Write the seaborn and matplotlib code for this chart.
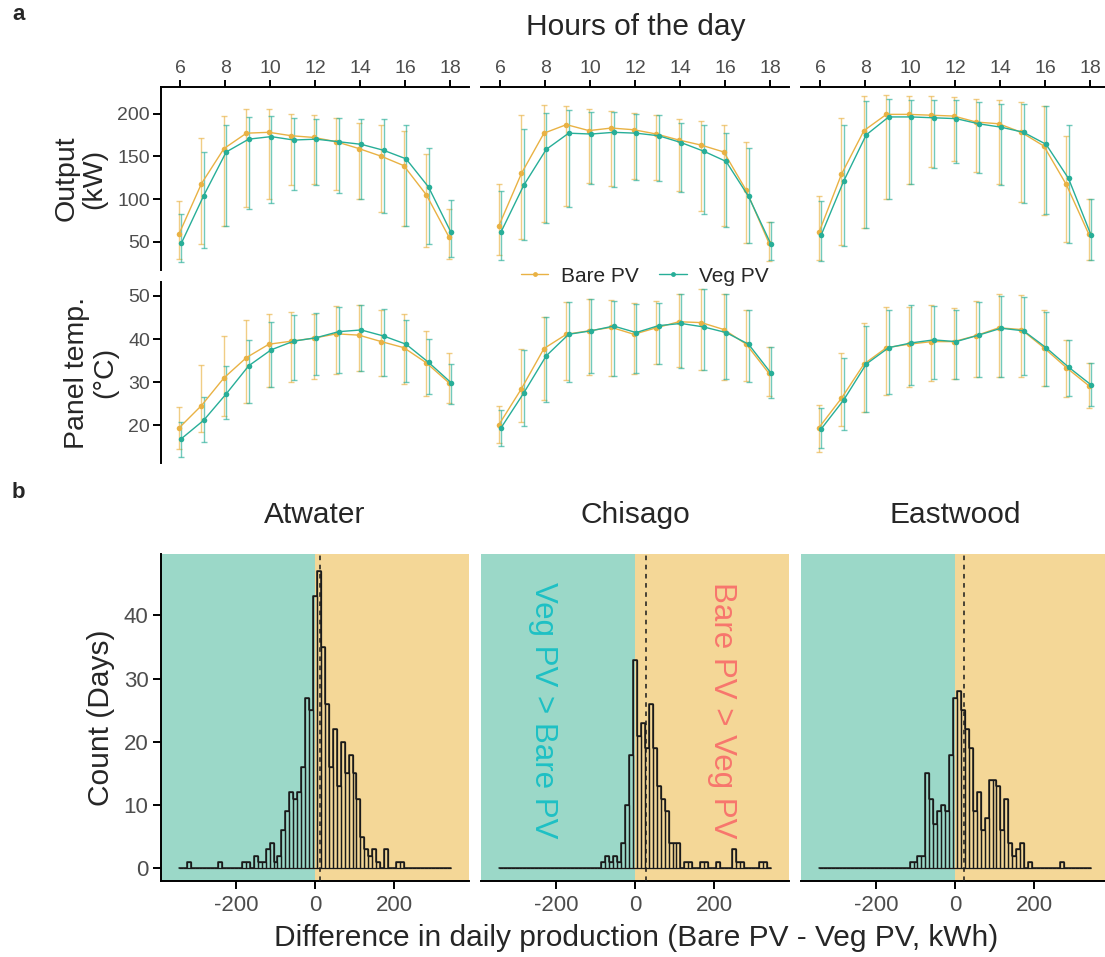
import numpy as np
import pandas as pd
import seaborn as sns
import matplotlib.pyplot as plt
from matplotlib.lines import Line2D

sns.set_theme(style="white")
plt.rcParams['font.family'] = ['Liberation Sans', 'DejaVu Sans']
plt.rcParams['axes.unicode_minus'] = False

# ---- data ----------------------------------------------------------------
hours = list(range(6, 19))
sites = ["Atwater", "Chisago", "Eastwood"]

# output (kW): mean, lower and upper end of error bar
atw_out_bare = [59, 118, 159, 177, 178, 174, 172, 167, 159, 150, 139, 105, 56]
atw_out_bare_lo = [30, 47, 69, 91, 100, 116, 118, 110, 100, 85, 68, 44, 30]
atw_out_bare_hi = [98, 171, 197, 205, 205, 200, 198, 195, 189, 187, 179, 153, 88]
atw_out_veg = [48, 104, 155, 170, 173, 169, 170, 167, 164, 157, 147, 114, 61]
atw_out_veg_lo = [26, 43, 68, 88, 95, 111, 116, 107, 100, 84, 68, 47, 32]
atw_out_veg_hi = [82, 155, 187, 196, 197, 195, 194, 195, 194, 194, 187, 160, 99]

chi_out_bare = [69, 130, 177, 187, 180, 183, 181, 176, 169, 163, 155, 110, 49]
chi_out_bare_lo = [35, 53, 73, 92, 119, 115, 123, 122, 109, 86, 68, 48, 27]
chi_out_bare_hi = [117, 198, 210, 209, 205, 203, 201, 198, 193, 191, 186, 167, 73]
chi_out_veg = [62, 116, 158, 177, 176, 178, 177, 174, 166, 156, 144, 103, 47]
chi_out_veg_lo = [29, 52, 72, 91, 118, 114, 122, 121, 108, 83, 67, 48, 29]
chi_out_veg_hi = [109, 182, 201, 204, 202, 202, 200, 198, 189, 187, 177, 160, 73]

eas_out_bare = [61, 129, 180, 199, 199, 198, 197, 190, 188, 178, 162, 117, 59]
eas_out_bare_lo = [29, 46, 66, 100, 118, 137, 144, 132, 118, 96, 81, 50, 29]
eas_out_bare_hi = [104, 195, 221, 222, 220, 220, 219, 217, 216, 213, 209, 174, 100]
eas_out_veg = [58, 121, 175, 196, 196, 195, 194, 188, 184, 178, 164, 124, 58]
eas_out_veg_lo = [28, 45, 66, 100, 118, 136, 142, 131, 116, 95, 82, 49, 29]
eas_out_veg_hi = [98, 186, 215, 217, 216, 216, 216, 213, 211, 211, 209, 186, 100]

# panel temperature (degC)
atw_tmp_bare = [19.4, 24.6, 31.0, 35.7, 38.8, 39.5, 40.2, 41.2, 40.9, 39.4, 38.0, 34.5, 29.9]
atw_tmp_bare_lo = [14.5, 18.5, 22.2, 25.3, 28.8, 30.1, 30.8, 31.8, 32.7, 31.5, 29.5, 26.7, 25.2]
atw_tmp_bare_hi = [24.2, 34.0, 40.7, 44.3, 45.9, 46.2, 45.9, 47.6, 47.9, 46.8, 45.8, 41.8, 36.8]
atw_tmp_veg = [16.9, 21.2, 27.3, 33.8, 37.5, 39.5, 40.3, 41.7, 42.1, 40.7, 38.8, 34.6, 29.9]
atw_tmp_veg_lo = [12.8, 16.2, 21.5, 25.3, 28.8, 30.4, 31.6, 32.2, 32.7, 31.5, 30.0, 27.3, 25.0]
atw_tmp_veg_hi = [20.8, 26.5, 33.8, 39.8, 43.9, 45.5, 46.1, 47.5, 47.9, 46.9, 44.5, 40.1, 34.2]

chi_tmp_bare = [20.2, 28.5, 37.8, 41.1, 41.9, 42.7, 41.1, 42.6, 44.0, 43.8, 42.2, 38.8, 32.1]
chi_tmp_bare_lo = [15.9, 20.7, 25.9, 30.5, 31.7, 31.5, 31.8, 34.2, 33.5, 32.8, 30.5, 30.2, 26.7]
chi_tmp_bare_hi = [24.6, 37.6, 45.2, 48.6, 49.2, 49.0, 48.4, 48.8, 50.5, 51.5, 50.5, 46.8, 38.2]
chi_tmp_veg = [19.5, 27.5, 36.1, 41.1, 41.9, 43.0, 41.5, 43.1, 43.6, 42.8, 41.5, 38.8, 32.1]
chi_tmp_veg_lo = [15.2, 19.8, 25.5, 30.0, 32.1, 31.5, 32.2, 34.2, 33.2, 32.8, 30.7, 30.0, 26.3]
chi_tmp_veg_hi = [23.6, 37.5, 45.0, 48.5, 49.2, 48.9, 48.2, 48.4, 50.4, 51.5, 50.4, 46.8, 38.2]

eas_tmp_bare = [19.5, 26.3, 34.2, 38.0, 38.8, 39.4, 39.4, 40.8, 42.6, 42.2, 38.0, 33.4, 29.2]
eas_tmp_bare_lo = [13.8, 19.8, 23.0, 27.1, 29.0, 30.2, 30.7, 31.2, 31.1, 31.3, 29.2, 26.5, 24.0]
eas_tmp_bare_hi = [24.7, 36.7, 43.6, 47.4, 47.3, 47.8, 47.1, 48.8, 50.4, 50.2, 46.7, 39.8, 34.5]
eas_tmp_veg = [19.2, 25.9, 34.2, 38.0, 39.1, 39.8, 39.4, 40.9, 42.5, 41.9, 38.0, 33.5, 29.4]
eas_tmp_veg_lo = [14.7, 19.0, 23.0, 27.2, 29.4, 30.7, 30.7, 31.2, 31.3, 31.7, 29.2, 26.7, 24.4]
eas_tmp_veg_hi = [24.1, 35.7, 43.0, 46.8, 47.8, 47.6, 46.8, 48.6, 50.0, 49.8, 46.3, 39.8, 34.4]

# daily production difference histograms (bin centre, number of days)
atw_diff = [-320, -240, -180, -170, -150, -140, -130, -120, -110, -100, -90, -80, -70,
            -60, -50, -40, -30, -20, -10, 0, 10, 20, 30, 40, 50, 60, 70, 80, 90, 100,
            110, 120, 130, 140, 150, 160, 180, 210, 220]
atw_days = [1, 1, 1, 1, 2, 1, 1, 3, 4, 1, 2, 6, 9, 12, 11, 12, 16, 27, 25, 43, 47, 35,
            26, 16, 22, 13, 20, 15, 18, 15, 11, 5, 3, 2, 3, 1, 3, 1, 1]
chi_diff = [-80, -70, -60, -50, -40, -30, -20, -10, 0, 10, 20, 30, 40, 50, 60, 70, 80,
            90, 100, 110, 130, 140, 170, 180, 210, 250, 260, 270, 320, 330]
chi_days = [1, 2, 1, 2, 1, 4, 10, 18, 33, 21, 23, 19, 26, 19, 13, 11, 9, 4, 4, 4, 1, 1,
            1, 1, 1, 3, 1, 1, 1, 1]
eas_diff = [-110, -100, -90, -80, -70, -60, -50, -40, -30, -20, -10, 0, 10, 20, 30, 40,
            50, 60, 70, 80, 90, 100, 110, 120, 130, 140, 150, 160, 170, 190, 270]
eas_days = [1, 1, 2, 2, 15, 11, 7, 9, 10, 9, 18, 27, 28, 25, 22, 19, 9, 12, 6, 8, 14, 14,
            13, 6, 11, 4, 2, 3, 4, 1, 1]
mean_diff = [12, 27, 22]
bin_edges = list(range(-345, 346, 10))

out_data = [
    (atw_out_bare, atw_out_bare_lo, atw_out_bare_hi, atw_out_veg, atw_out_veg_lo, atw_out_veg_hi),
    (chi_out_bare, chi_out_bare_lo, chi_out_bare_hi, chi_out_veg, chi_out_veg_lo, chi_out_veg_hi),
    (eas_out_bare, eas_out_bare_lo, eas_out_bare_hi, eas_out_veg, eas_out_veg_lo, eas_out_veg_hi),
]
tmp_data = [
    (atw_tmp_bare, atw_tmp_bare_lo, atw_tmp_bare_hi, atw_tmp_veg, atw_tmp_veg_lo, atw_tmp_veg_hi),
    (chi_tmp_bare, chi_tmp_bare_lo, chi_tmp_bare_hi, chi_tmp_veg, chi_tmp_veg_lo, chi_tmp_veg_hi),
    (eas_tmp_bare, eas_tmp_bare_lo, eas_tmp_bare_hi, eas_tmp_veg, eas_tmp_veg_lo, eas_tmp_veg_hi),
]
hist_data = [(atw_diff, atw_days), (chi_diff, chi_days), (eas_diff, eas_days)]

# ---- style ---------------------------------------------------------------
c_bare = "#E9B244"
c_veg = "#27AE98"
bg_veg = "#9BD8C8"
bg_bare = "#F4D797"
tick_col = "#4D4D4D"
W, H = 1105, 957
lw_axis = 1.4
fs_tick = 14
fs_tick_b = 16
fs_title = 21.5

fig = plt.figure(figsize=(W / 100, H / 100), dpi=100)


def box(x0, y0, x1, y1):
    return [x0 / W, 1 - y1 / H, (x1 - x0) / W, (y1 - y0) / H]


cols = [(161, 469), (481, 789), (801, 1109)]
rows_a = [(87, 270), (282, 463)]
row_b = (554, 881)


def long_frame(vals):
    bare, bare_lo, bare_hi, veg, veg_lo, veg_hi = vals
    d1 = pd.DataFrame({"hour": hours, "mean": bare, "lo": bare_lo, "hi": bare_hi, "PV": "Bare PV"})
    d2 = pd.DataFrame({"hour": hours, "mean": veg, "lo": veg_lo, "hi": veg_hi, "PV": "Veg PV"})
    d1["x"] = d1["hour"] - 0.05
    d2["x"] = d2["hour"] + 0.05
    return pd.concat([d1, d2], ignore_index=True)


pal = {"Bare PV": c_bare, "Veg PV": c_veg}

for r, (dataset, ylim, yticks) in enumerate([
        (out_data, (17, 231), [50, 100, 150, 200]),
        (tmp_data, (11.3, 53.2), [20, 30, 40, 50])]):
    for c in range(3):
        ax = fig.add_axes(box(cols[c][0], rows_a[r][0], cols[c][1], rows_a[r][1]))
        df = long_frame(dataset[c])
        for pv, g in df.groupby("PV"):
            ax.errorbar(g["x"], g["mean"], yerr=[g["mean"] - g["lo"], g["hi"] - g["mean"]],
                        fmt="none", ecolor=pal[pv], alpha=0.65, elinewidth=1.0,
                        capsize=2.5, capthick=1.0)
        sns.lineplot(data=df, x="x", y="mean", hue="PV", palette=pal, marker="o",
                     markersize=4, markeredgewidth=0, linewidth=1.0, legend=False,
                     sort=True, ax=ax)
        ax.set_xlim(5.15, 18.85)
        ax.set_ylim(*ylim)
        ax.set_xlabel("")
        ax.set_ylabel("")
        ax.patch.set_alpha(0)
        for s in ax.spines.values():
            s.set_visible(False)
        if r == 0:
            ax.xaxis.tick_top()
            ax.set_xticks([6, 8, 10, 12, 14, 16, 18])
            ax.spines["top"].set_visible(True)
            ax.spines["top"].set_linewidth(lw_axis)
            ax.spines["top"].set_color("black")
            ax.tick_params(axis="x", top=True, labeltop=True, bottom=False, labelbottom=False,
                           length=5, width=lw_axis, color="black", labelsize=fs_tick,
                           labelcolor=tick_col, pad=2)
        else:
            ax.set_xticks([])
        if c == 0:
            ax.spines["left"].set_visible(True)
            ax.spines["left"].set_linewidth(lw_axis)
            ax.spines["left"].set_color("black")
            ax.set_yticks(yticks)
            ax.tick_params(axis="y", left=True, length=6, width=lw_axis, color="black",
                           labelsize=fs_tick, labelcolor=tick_col, pad=2)
            ax.set_ylabel("Output\n(kW)" if r == 0 else "Panel temp.\n(°C)",
                          fontsize=fs_title - 1, labelpad=7, linespacing=1.1)
        else:
            ax.set_yticks([])

# ---- panel b: histograms --------------------------------------------------
for c in range(3):
    ax = fig.add_axes(box(cols[c][0], row_b[0], cols[c][1], row_b[1]))
    ax.axvspan(-390, 0, color=bg_veg, lw=0, zorder=0)
    ax.axvspan(0, 390, color=bg_bare, lw=0, zorder=0)
    diff, days = hist_data[c]
    hdf = pd.DataFrame({"diff": diff, "days": days})
    sns.histplot(data=hdf, x="diff", weights="days", bins=bin_edges, element="bars",
                 fill=False, color="#1A1A1A", linewidth=0.9, ax=ax, zorder=2)
    # outline pass so the empty bins form a continuous baseline
    sns.histplot(data=hdf, x="diff", weights="days", bins=bin_edges, element="step",
                 fill=False, color="#1A1A1A", linewidth=1.1, ax=ax, zorder=2)
    ax.axvline(mean_diff[c], color="#1A1A1A", ls=(0, (3, 3)), lw=1.1, zorder=3)
    ax.set_xlim(-390, 390)
    ax.set_ylim(-2.0, 49.7)
    ax.set_xlabel("")
    ax.set_ylabel("")
    for s in ax.spines.values():
        s.set_visible(False)
    ax.spines["bottom"].set_visible(True)
    ax.spines["bottom"].set_linewidth(lw_axis)
    ax.spines["bottom"].set_color("black")
    ax.set_xticks([-200, 0, 200])
    ax.tick_params(axis="x", bottom=True, length=6, width=lw_axis, color="black",
                   labelsize=fs_tick_b, labelcolor=tick_col, pad=4)
    ax.set_title(sites[c], fontsize=fs_title, pad=22)
    if c == 0:
        ax.spines["left"].set_visible(True)
        ax.spines["left"].set_linewidth(lw_axis)
        ax.spines["left"].set_color("black")
        ax.set_yticks([0, 10, 20, 30, 40])
        ax.tick_params(axis="y", left=True, length=6, width=lw_axis, color="black",
                       labelsize=fs_tick_b, labelcolor=tick_col, pad=3)
        ax.set_ylabel("Count (Days)", fontsize=fs_title, labelpad=6)
    else:
        ax.set_yticks([])
    if c == 1:
        ax.text(-233, 25, "Veg PV > Bare PV", rotation=270, color="#1EC0C4",
                fontsize=22.5, ha="center", va="center", zorder=4)
        ax.text(220, 25, "Bare PV > Veg PV", rotation=270, color="#F8766D",
                fontsize=22.5, ha="center", va="center", zorder=4)

# ---- figure-level text ----------------------------------------------------
fig.text(636 / W, 1 - 27 / H, "Hours of the day", fontsize=fs_title, ha="center", va="center")
fig.text(636 / W, 1 - 938 / H, "Difference in daily production (Bare PV - Veg PV, kWh)",
         fontsize=fs_title, ha="center", va="center")
fig.text(12 / W, 1 - 15 / H, "a", fontsize=16, fontweight="bold", ha="left", va="center")
fig.text(12 / W, 1 - 493 / H, "b", fontsize=16, fontweight="bold", ha="left", va="center")

handles = [Line2D([0], [0], color=c_bare, marker="o", markersize=3.5, lw=1.0, markeredgewidth=0),
           Line2D([0], [0], color=c_veg, marker="o", markersize=3.5, lw=1.0, markeredgewidth=0)]
fig.legend(handles, ["Bare PV", "Veg PV"], loc="center", bbox_to_anchor=(645 / W, 1 - 276 / H),
           ncol=2, frameon=False, fontsize=15, handlelength=1.3, handletextpad=0.6,
           columnspacing=1.0, borderpad=0)

fig.savefig("out.png", dpi=100)
